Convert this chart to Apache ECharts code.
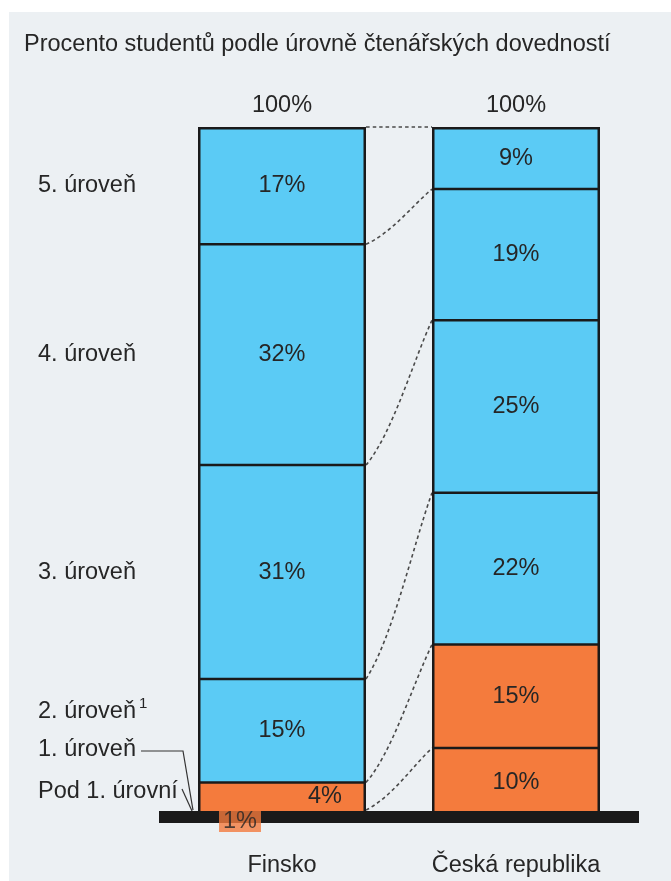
<!DOCTYPE html>
<html>
<head>
<meta charset="utf-8">
<script src="https://cdn.jsdelivr.net/npm/echarts@6/dist/echarts.min.js"></script>
<style>
html,body{margin:0;padding:0;background:#ffffff;}
#chart{width:671px;height:881px;}
</style>
</head>
<body>
<div id="chart"></div>
<script>
const titleText = 'Procento studentů podle úrovně čtenářských dovedností';
const categories = ['Finsko', 'Česká republika'];
const levels = ['Pod 1. úrovní', '1. úroveň', '2. úroveň', '3. úroveň', '4. úroveň', '5. úroveň'];
const finsko = [1, 4, 15, 31, 32, 17];
const cesko = [10, 15, 22, 25, 19, 9];
const totals = [100, 100];

const FONT = '"Liberation Sans", Arial, sans-serif';
const FS = 23.5;
const BLUE = '#5bcbf5';
const ORANGE = '#f47b3d';
const TXT = '#262626';
const LINE = '#1a1a1a';
const BW = 168;

const chart = echarts.init(document.getElementById('chart'));

function cum(arr) { let s = 0; return arr.map(v => (s += v)); }
const finCum = cum(finsko);
const czCum = cum(cesko);
const connectors = finCum.map((v, i) => [0, v, czCum[i]]);
// internal boundaries between segments (Finsko's 1%/4% boundary is not drawn)
const separators = [];
finCum.slice(1, -1).forEach(v => separators.push([0, v]));
czCum.slice(0, -1).forEach(v => separators.push([1, v]));

const series = levels.map((lv, i) => ({
  name: lv,
  type: 'bar',
  stack: 'total',
  barWidth: BW,
  barGap: '-100%',
  z: 2,
  itemStyle: { color: i < 2 ? ORANGE : BLUE, borderWidth: 0 },
  label: {
    show: true, position: 'inside', color: TXT, fontSize: FS, fontFamily: FONT,
    formatter: p => p.value + '%'
  },
  data: [finsko[i], cesko[i]].map((v, ci) => {
    const d = { value: v };
    if (ci === 0 && i === 0) { d.label = { show: false }; }
    if (ci === 0 && i === 1) { d.label = { offset: [43, 0] }; }
    return d;
  })
}));

series.push({
  name: 'frame', type: 'bar', barWidth: BW, barGap: '-100%', z: 3, silent: true,
  itemStyle: { color: 'rgba(0,0,0,0)', borderColor: LINE, borderWidth: 2.5 },
  label: { show: true, position: 'top', distance: 9, color: TXT, fontSize: FS, fontFamily: FONT, formatter: p => p.value + '%' },
  data: totals
});

series.push({
  name: 'separators', type: 'custom', z: 3, silent: true,
  encode: { x: 0, y: 1 },
  renderItem: function (params, api) {
    const p = api.coord([api.value(0), api.value(1)]);
    return {
      type: 'line',
      shape: { x1: p[0] - BW / 2, y1: p[1], x2: p[0] + BW / 2, y2: p[1] },
      style: { stroke: LINE, lineWidth: 2.5 }
    };
  },
  data: separators
});

series.push({
  name: 'connectors', type: 'custom', z: 1, silent: true,
  encode: { x: 0, y: 1 },
  renderItem: function (params, api) {
    const a = api.coord([0, api.value(1)]);
    const b = api.coord([1, api.value(2)]);
    const x1 = a[0] + BW / 2, x2 = b[0] - BW / 2;
    const rise = a[1] - b[1];
    return {
      type: 'bezierCurve',
      shape: { x1: x1, y1: a[1], x2: x2, y2: b[1],
               cpx1: x1 + (x2 - x1) * 0.4, cpy1: a[1] - rise * 0.22,
               cpx2: x1 + (x2 - x1) * 0.7, cpy2: a[1] - rise * 0.7 },
      style: { stroke: '#4a4a4a', lineWidth: 1.6, lineDash: [3.5, 3], fill: null }
    };
  },
  data: connectors
});

series.push({
  name: 'pod1label', type: 'scatter', z: 10, silent: true, symbolSize: 0,
  label: {
    show: true, position: 'inside', offset: [-42, 4.5], color: TXT, fontSize: FS, fontFamily: FONT,
    backgroundColor: ORANGE, padding: [0, 4], lineHeight: 21,
    formatter: p => finsko[0] + '%'
  },
  data: [[0, 0]]
});

chart.setOption({
  backgroundColor: '#ffffff',
  animation: false,
  title: { text: titleText, left: 19, top: 28, textStyle: { fontSize: FS, fontWeight: 'normal', color: TXT, fontFamily: FONT } },
  grid: { left: 165, right: 38, top: 127, bottom: 64 },
  xAxis: {
    type: 'category', data: categories, z: 5,
    axisLine: { lineStyle: { color: LINE, width: 12, cap: 'square' } },
    axisTick: { show: false },
    axisLabel: { margin: 37, color: TXT, fontSize: FS, fontFamily: FONT }
  },
  yAxis: { type: 'value', min: 0, max: 100, show: false },
  series: series
});

// left-side level labels and leaders
const c0 = chart.convertToPixel({ gridIndex: 0 }, [0, 0]);
const yOf = v => chart.convertToPixel({ gridIndex: 0 }, [0, v])[1];
const leftEdge = c0[0] - BW / 2;
const mid = i => yOf(finCum[i] - finsko[i] / 2);
const tStyle = (t) => ({ text: t, fill: TXT, font: FS + 'px ' + FONT, textVerticalAlign: 'middle' });
const g = [
  { type: 'rect', shape: { x: 9, y: 12, width: 662, height: 869 }, style: { fill: '#ecf0f3' }, z: -100, silent: true },
  { type: 'text', x: 38, y: mid(5), style: tStyle(levels[5]), silent: true },
  { type: 'text', x: 38, y: mid(4), style: tStyle(levels[4]), silent: true },
  { type: 'text', x: 38, y: mid(3), style: tStyle(levels[3]), silent: true },
  { type: 'text', x: 38, y: 712, style: tStyle(levels[2]), silent: true },
  { type: 'text', x: 139, y: 704, style: { text: '1', fill: TXT, font: '15px ' + FONT, textVerticalAlign: 'middle' }, silent: true },
  { type: 'text', x: 38, y: 750, style: tStyle(levels[1]), silent: true },
  { type: 'text', x: 38, y: 792, style: tStyle(levels[0]), silent: true },
  { type: 'polyline', shape: { points: [[141, 751], [183, 751], [leftEdge - 5, yOf(finCum[0])]] }, style: { stroke: '#333', lineWidth: 1.2, fill: null }, silent: true },
  { type: 'polyline', shape: { points: [[182, 789], [leftEdge - 6, yOf(0) - 6]] }, style: { stroke: '#333', lineWidth: 1.2, fill: null }, silent: true }
];
chart.setOption({ graphic: g });
</script>
</body>
</html>
